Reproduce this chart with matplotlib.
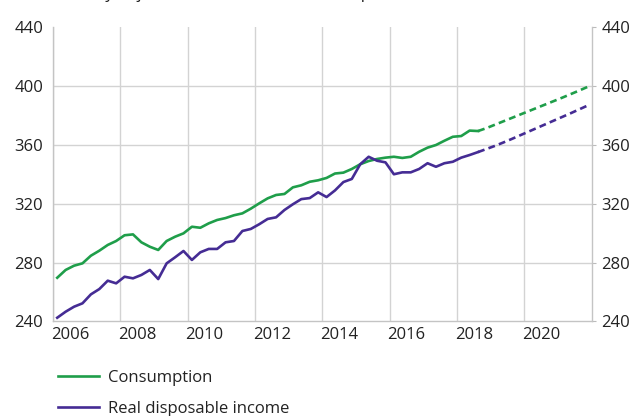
import matplotlib
matplotlib.use("Agg")
import matplotlib.pyplot as plt
import numpy as np

plt.rcParams['font.family'] = ['Open Sans', 'DejaVu Sans']

# Quarterly data, 2006Q1 onwards (x = year + (q-0.5)/4)
start_year = 2006
consumption = [269.7, 275.0, 277.9, 279.5, 284.7, 288.1, 292.0, 294.7, 298.6, 299.2,
               293.8, 290.8, 288.6, 294.7, 297.6, 299.9, 304.4, 303.7, 306.7, 309.0,
               310.3, 312.2, 313.5, 316.7, 320.3, 323.7, 326.0, 326.7, 331.2, 332.6,
               335.0, 336.0, 337.6, 340.6, 341.2, 343.7, 346.9, 349.1, 350.5, 351.4,
               352.0, 351.2, 352.0, 355.4, 358.2, 360.0, 362.9, 365.6, 366.1, 369.8,
               369.5]
income = [242.5, 246.6, 250.0, 252.3, 258.4, 262.0, 267.7, 265.9, 270.4, 269.3,
          271.6, 275.0, 268.8, 279.5, 283.6, 287.9, 281.8, 287.0, 289.3, 289.3,
          293.8, 294.7, 301.5, 302.9, 306.1, 309.7, 310.8, 315.8, 319.7, 323.2,
          323.9, 327.8, 324.6, 329.1, 334.8, 336.9, 346.9, 352.0, 349.3, 348.2,
          340.1, 341.4, 341.4, 343.7, 347.6, 345.2, 347.6, 348.6, 351.4, 353.2,
          355.2]
# Projections (dashed), starting at last actual quarter
consumption_proj = [369.5, 371.5, 373.8, 376.1, 378.4, 380.7, 383.0, 385.3, 387.6,
                    389.9, 392.2, 394.6, 397.0, 399.5]
income_proj = [355.2, 357.3, 359.4, 361.7, 364.1, 366.6, 369.1, 371.6, 374.1,
               376.6, 379.1, 381.6, 384.2, 386.8]

year_ticks = [2006, 2008, 2010, 2012, 2014, 2016, 2018, 2020]
y_ticks = [240, 280, 320, 360, 400, 440]
labels = ["Consumption", "Real disposable income"]
title = "Seasonally adjusted, constant NOK billion, prices 2018"

green = '#1f9e4a'
purple = '#452c94'

def qx(n, offset=0):
    return start_year + (np.arange(n) + offset + 0.5) / 4

fig = plt.figure(figsize=(6.32, 4.16), dpi=100)
ax = fig.add_axes([0.0839, 0.2274, 0.8523, 0.7067])

n = len(consumption)
ax.plot(qx(n), consumption, color=green, lw=1.9, label=labels[0])
ax.plot(qx(len(income)), income, color=purple, lw=1.9, label=labels[1])
ax.plot(qx(len(consumption_proj), n - 1), consumption_proj, color=green, lw=1.9,
        ls=(0, (2.6, 1.6)))
ax.plot(qx(len(income_proj), len(income) - 1), income_proj, color=purple, lw=1.9,
        ls=(0, (2.6, 1.6)))

ax.set_xlim(2006, 2022)
ax.set_ylim(240, 440)

# gridlines at even years, labels centred mid-year
ax.set_xticks(year_ticks)
ax.set_xticklabels([])
ax.set_xticks([y + 0.5 for y in year_ticks], minor=True)
ax.set_xticklabels([str(y) for y in year_ticks], minor=True)
ax.tick_params(axis='x', which='both', length=0, labelsize=12, colors='#222222', pad=4)
ax.xaxis.grid(True, which='major', color='#d3d3d3', lw=1)

ax.set_yticks(y_ticks)
ax.set_yticklabels([str(v) for v in y_ticks])
ax.tick_params(axis='y', which='both', left=False, right=True, labelleft=True,
               labelright=True, length=3, labelsize=12, colors='#222222', pad=4)
ax.tick_params(axis='y', which='both', color='#bbbbbb')
for v in y_ticks[1:-1]:
    ax.axhline(v, color='#d3d3d3', lw=1, zorder=0)

for s in ['left', 'right', 'bottom']:
    ax.spines[s].set_color('#c4c4c4')
    ax.spines[s].set_linewidth(1)
ax.spines['top'].set_visible(False)
ax.set_axisbelow(True)

fig.text(0.05, 1.0 + 2/416, title, fontsize=12, va='baseline', ha='left', color='#222222')

leg = fig.legend(loc='upper left', bbox_to_anchor=(0.0915, 0.111), frameon=False,
                 fontsize=12, handlelength=2.5, handletextpad=0.5, labelspacing=0.9,
                 borderaxespad=0, borderpad=0)
for t in leg.get_texts():
    t.set_color('#222222')

fig.savefig('out.png', dpi=100)
